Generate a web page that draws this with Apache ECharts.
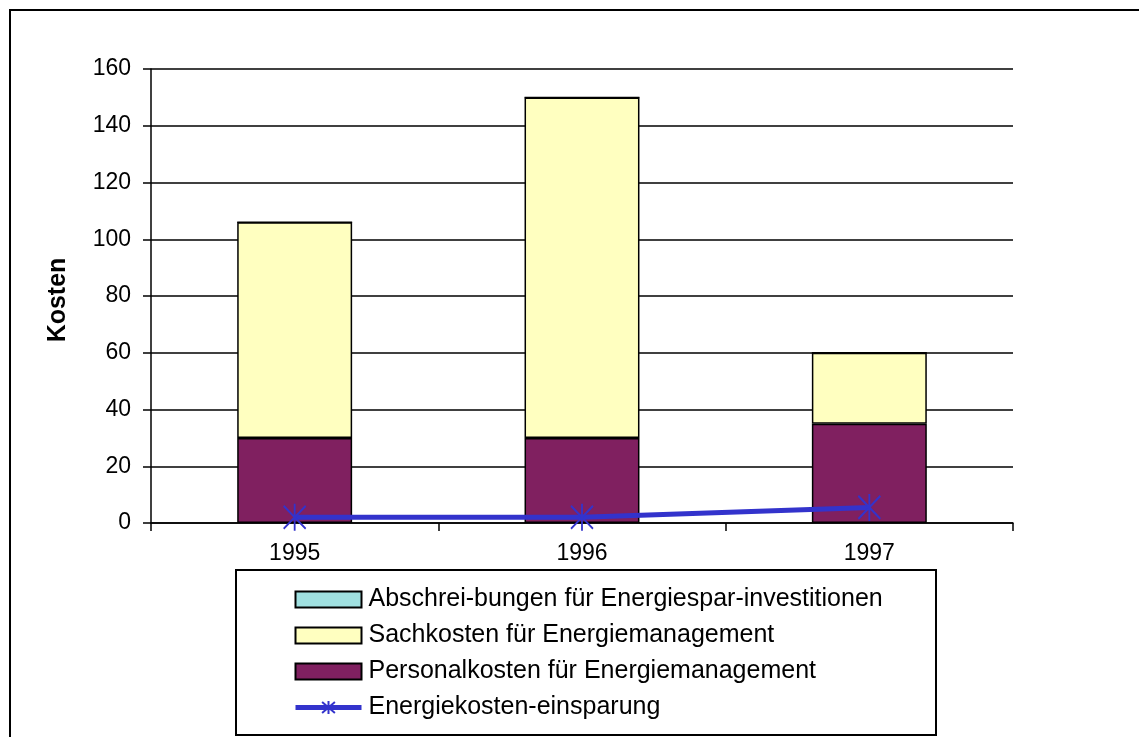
<!DOCTYPE html>
<html><head><meta charset="utf-8">
<script src="https://cdn.jsdelivr.net/npm/echarts@6/dist/echarts.min.js"></script>
<style>html,body{margin:0;padding:0;background:#fff}#c{width:1139px;height:737px}</style>
</head><body><div id="c"></div>
<script>
const years = ['1995', '1996', '1997'];
const abschreibungen = [0, 0, 0];
const sachkosten = [76, 120, 25];
const personalkosten = [30, 30, 35];
const einsparung = [2, 2, 5.5];
const yTicks = { min: 0, max: 160, interval: 20 };
const names = ['Abschrei-bungen für Energiespar-investitionen', 'Sachkosten für Energiemanagement', 'Personalkosten für Energiemanagement', 'Energiekosten-einsparung'];

const font = 'Liberation Sans, Arial, sans-serif';
const chart = echarts.init(document.getElementById('c'), null, { renderer: 'canvas' });
const barBorder = { borderColor: '#000', borderWidth: 1.5 };
chart.setOption({
  animation: false,
  backgroundColor: '#fff',
  textStyle: { fontFamily: font },
  grid: { left: 151, right: 126, top: 69, bottom: 214 },
  xAxis: {
    type: 'category', data: years,
    axisLine: { lineStyle: { color: '#000', width: 1.5 } },
    axisTick: { show: true, length: 8, lineStyle: { color: '#000', width: 1.5 } },
    axisLabel: { color: '#000', fontSize: 23, margin: 19, fontFamily: font }
  },
  yAxis: {
    type: 'value', min: yTicks.min, max: yTicks.max, interval: yTicks.interval,
    name: 'Kosten', nameLocation: 'middle', nameGap: 80,
    nameTextStyle: { color: '#000', fontSize: 25, fontWeight: 'bold', fontFamily: font, padding: [0, 8, 0, 0] },
    axisLine: { show: true, lineStyle: { color: '#000', width: 1.5 } },
    axisTick: { show: true, length: 8, lineStyle: { color: '#000', width: 1.5 } },
    axisLabel: { color: '#000', fontSize: 23, margin: 20, fontFamily: font },
    splitLine: { show: true, lineStyle: { color: '#000', width: 1.5 } }
  },
  legend: {
    orient: 'vertical', left: 288, top: 582,
    itemWidth: 66, itemHeight: 16, itemGap: 11,
    lineStyle: { width: 'inherit' },
    textStyle: { color: '#000', fontSize: 25, fontFamily: font, padding: [0, 0, 0, 2] },
    data: [
      { name: names[0], icon: 'rect' },
      { name: names[1], icon: 'rect' },
      { name: names[2], icon: 'rect' },
      { name: names[3] }
    ]
  },
  graphic: [
    { type: 'rect', shape: { x: 10, y: 10, width: 1200, height: 800 }, style: { fill: 'none', stroke: '#000', lineWidth: 2 }, silent: true, z: -1 },
    { type: 'rect', shape: { x: 236, y: 570, width: 700, height: 165 }, style: { fill: 'none', stroke: '#000', lineWidth: 2 }, silent: true }
  ],
  series: [
    { name: names[2], type: 'bar', stack: 's', data: personalkosten, barWidth: '40%', itemStyle: Object.assign({ color: '#802060' }, barBorder) },
    { name: names[1], type: 'bar', stack: 's', data: sachkosten, itemStyle: Object.assign({ color: '#FFFFC0' }, barBorder) },
    { name: names[0], type: 'bar', stack: 's', data: abschreibungen, itemStyle: Object.assign({ color: '#A0E0E0' }, barBorder) },
    { name: names[3], type: 'line', data: einsparung, z: 5,
      symbol: 'path://M10,0 L10,26 M2,2 L18,24 M18,2 L2,24', symbolSize: [22, 27],
      lineStyle: { color: '#3333CC', width: 5 },
      itemStyle: { color: '#3333CC', borderColor: '#3333CC', borderWidth: 2 } }
  ]
});
</script></body></html>
